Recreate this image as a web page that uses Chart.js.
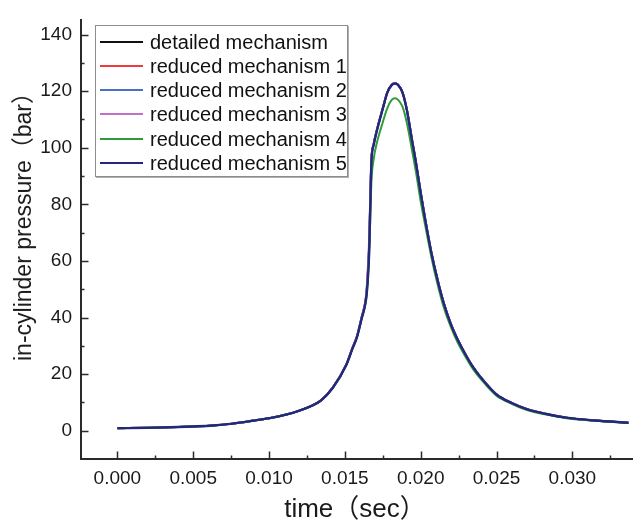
<!DOCTYPE html>
<html>
<head>
<meta charset="utf-8">
<script src="https://cdn.jsdelivr.net/npm/chart.js@4/dist/chart.umd.min.js"></script>
<style>
html,body{margin:0;padding:0;background:#fff;}
#wrap{position:relative;width:633px;height:520px;overflow:hidden;background:#fff;}
#c{position:absolute;left:0;top:0;}
.txt{position:absolute;white-space:nowrap;font-family:"Liberation Sans",Arial,"Noto Sans CJK SC",sans-serif;color:#1a1a1a;}
#legend{position:absolute;left:95px;top:25px;width:251px;height:150px;border:1px solid #8c8c8c;box-shadow:1px 1px 0 #b0b0b0;background:#fff;}
.row{position:absolute;left:0;height:24px;width:250px;}
.sample{position:absolute;left:4px;top:11px;width:43px;height:2px;}
.lab{position:absolute;left:54px;top:0;font-size:20px;line-height:24px;font-family:"Liberation Sans",Arial,sans-serif;color:#111;white-space:nowrap;}
#xtitle{font-size:26px;line-height:30px;height:30px;left:355px;top:493px;transform:translateX(-50%);}
#ytitle{font-size:23px;line-height:26px;height:26px;left:23px;top:221px;transform:translate(-50%,-50%) rotate(-90deg);}
</style>
</head>
<body>
<div id="wrap">
  <canvas id="c" width="633" height="520"></canvas>
  <div id="legend"></div>
  <div id="xtitle" class="txt"></div>
  <div id="ytitle" class="txt"></div>
</div>
<script>
// ---------- data ----------
const timeSec = [0, 0.002, 0.004, 0.005, 0.0063, 0.0076, 0.0089, 0.0102, 0.0112, 0.012,
  0.0128, 0.0134, 0.0142, 0.0151, 0.0155, 0.0158, 0.0161, 0.0164, 0.0165, 0.0166,
  0.01668, 0.01675, 0.0169, 0.0171, 0.0175, 0.0178, 0.0181, 0.01829, 0.0185, 0.0188,
  0.0191, 0.0194, 0.0197, 0.0200, 0.0203, 0.0207, 0.0211, 0.0215, 0.0220, 0.0224,
  0.0230, 0.0235, 0.0242, 0.0250, 0.0260, 0.0270, 0.0283, 0.0296, 0.0315, 0.0337];

const detailedMechanism = [0.9, 1.0, 1.3, 1.5, 1.85, 2.5, 3.5, 4.6, 5.8, 7.1,
  8.8, 10.6, 15.2, 23.4, 29.2, 33.3, 39.8, 47.5, 54, 65,
  82, 95.5, 101.2, 106, 113.9, 119.6, 122.3, 122.8, 122.3, 119.6,
  113.1, 103.6, 94.4, 84.1, 74.6, 63.1, 53.6, 45.5, 37.6, 32.7,
  26.5, 22.1, 17.3, 12.8, 9.8, 7.6, 5.9, 4.6, 3.6, 2.8];

const reducedMechanism1 = [0.9, 1.0, 1.3, 1.5, 1.85, 2.5, 3.5, 4.6, 5.8, 7.1,
  8.8, 10.6, 15.2, 23.4, 29.2, 33.3, 39.8, 47.4, 54, 65,
  82, 95.5, 101.2, 106, 113.9, 119.6, 122.3, 122.8, 122.3, 119.6,
  113.1, 103.6, 94.4, 84.1, 74.6, 63.1, 53.6, 45.5, 37.6, 32.7,
  26.5, 22.1, 17.3, 12.8, 9.8, 7.6, 5.9, 4.6, 3.6, 2.8];

const reducedMechanism2 = [0.9, 1.0, 1.3, 1.5, 1.85, 2.5, 3.5, 4.6, 5.8, 7.1,
  8.8, 10.6, 15.2, 23.5, 29.3, 33.4, 40, 47, 55, 66,
  83, 95.5, 101.3, 106, 113.9, 119.6, 122.3, 122.8, 122.3, 119.6,
  113.1, 103.6, 94.4, 84.1, 74.6, 63.1, 53.6, 45.5, 37.6, 32.7,
  26.5, 22.1, 17.3, 12.8, 9.8, 7.6, 5.9, 4.6, 3.6, 2.8];

const reducedMechanism3 = [0.9, 1.0, 1.3, 1.5, 1.85, 2.5, 3.5, 4.6, 5.8, 7.1,
  8.8, 10.7, 15.3, 23.6, 29.4, 33.6, 40.2, 48, 56, 68,
  84, 96, 101.5, 106, 114, 119.7, 122.4, 122.9, 122.3, 119.6,
  113.2, 103.7, 94.5, 84.2, 74.7, 63.2, 53.7, 45.6, 37.7, 32.8,
  26.6, 22.2, 17.4, 12.9, 9.9, 7.7, 5.9, 4.6, 3.6, 2.8];

const reducedMechanism4 = [0.9, 1.0, 1.3, 1.5, 1.85, 2.5, 3.5, 4.6, 5.8, 7.1,
  8.8, 10.6, 15.1, 23.3, 29.0, 33.1, 39.5, 46.5, 52.3, 62.8,
  76, 88, 96, 101.5, 109, 114, 117, 117.5, 117, 114.5,
  108.5, 100, 91, 81, 72.5, 61.5, 52, 44, 36.5, 31.6,
  25.7, 21.4, 16.8, 12.4, 9.5, 7.3, 5.7, 4.4, 3.5, 2.7];

const reducedMechanism5 = [0.9, 1.0, 1.3, 1.5, 1.85, 2.5, 3.5, 4.6, 5.8, 7.1,
  8.8, 10.6, 15.1, 23.3, 29.0, 33.1, 39.5, 46.5, 52.3, 62.8,
  80, 95, 101, 105.8, 113.8, 119.5, 122.2, 122.7, 122.2, 119.5,
  113, 103.5, 94.3, 84, 74.5, 63, 53.5, 45.4, 37.5, 32.6,
  26.5, 22.1, 17.3, 12.8, 9.8, 7.6, 5.9, 4.6, 3.6, 2.8];

const seriesLabels = ['detailed mechanism', 'reduced mechanism 1', 'reduced mechanism 2',
  'reduced mechanism 3', 'reduced mechanism 4', 'reduced mechanism 5'];
const seriesValues = [detailedMechanism, reducedMechanism1, reducedMechanism2,
  reducedMechanism3, reducedMechanism4, reducedMechanism5];
const seriesColors = ['#111111', '#ee3b3b', '#4a6fc4', '#c070c8', '#2f9a3a', '#22287a'];
const drawOrder = [5, 4, 3, 2, 1, 0];

const xMajorTicks = [0, 0.005, 0.010, 0.015, 0.020, 0.025, 0.030];
const xTickLabels = ['0.000', '0.005', '0.010', '0.015', '0.020', '0.025', '0.030'];
const xMinorTicks = [0.0025, 0.0075, 0.0125, 0.0175, 0.0225, 0.0275, 0.0325];
const yMajorTicks = [0, 20, 40, 60, 80, 100, 120, 140];
const yTickLabels = ['0', '20', '40', '60', '80', '100', '120', '140'];
const yMinorTicks = [10, 30, 50, 70, 90, 110, 130];

const xTitle = 'time（sec）';
const yTitle = 'in-cylinder pressure（bar）';

// ---------- chart ----------
const axisColor = '#2a2a2a';
const tickFont = {family: '"Liberation Sans", Arial, sans-serif', size: 19};

const inwardTicks = {
  id: 'inwardTicks',
  afterDraw(chart) {
    const ctx = chart.ctx, xs = chart.scales.x, ys = chart.scales.y, ca = chart.chartArea;
    ctx.save();
    ctx.strokeStyle = axisColor;
    ctx.lineWidth = 1.5;
    ctx.beginPath();
    const major = 7.5, minor = 3.5;
    yMajorTicks.forEach(v => { const y = Math.round(ys.getPixelForValue(v)) + 0.5; ctx.moveTo(ca.left, y); ctx.lineTo(ca.left + major, y); });
    yMinorTicks.forEach(v => { const y = Math.round(ys.getPixelForValue(v)) + 0.5; ctx.moveTo(ca.left, y); ctx.lineTo(ca.left + minor, y); });
    xMajorTicks.forEach(v => { const x = Math.round(xs.getPixelForValue(v)) + 0.5; ctx.moveTo(x, ca.bottom); ctx.lineTo(x, ca.bottom - major); });
    xMinorTicks.forEach(v => { const x = Math.round(xs.getPixelForValue(v)) + 0.5; ctx.moveTo(x, ca.bottom); ctx.lineTo(x, ca.bottom - minor); });
    ctx.stroke();
    ctx.restore();
  }
};

new Chart(document.getElementById('c'), {
  type: 'line',
  data: {
    datasets: seriesLabels.map((lab, i) => ({
      label: lab,
      data: timeSec.map((t, k) => ({x: t, y: seriesValues[i][k]})),
      borderColor: seriesColors[i],
      backgroundColor: seriesColors[i],
      borderWidth: i === 5 ? 2.4 : 2,
      pointRadius: 0,
      fill: false,
      cubicInterpolationMode: 'monotone',
      order: drawOrder[i]
    }))
  },
  options: {
    responsive: false,
    animation: false,
    events: [],
    layout: {padding: {top: 13, right: 0, bottom: 0, left: 0}},
    plugins: {legend: {display: false}, tooltip: {enabled: false}, title: {display: false}},
    scales: {
      x: {
        type: 'linear',
        min: -0.0024,
        max: 0.034,
        afterFit: s => { s.height = 61; },
        afterBuildTicks: s => { s.ticks = xMajorTicks.map(v => ({value: v})); },
        grid: {display: false, drawTicks: false},
        border: {display: true, color: axisColor, width: 2},
        ticks: {
          autoSkip: false, maxRotation: 0, minRotation: 0,
          padding: 8, color: '#1a1a1a', font: tickFont,
          callback: (v, i) => xTickLabels[i]
        }
      },
      y: {
        type: 'linear',
        min: -10,
        max: 145,
        afterFit: s => { s.width = 81; },
        afterBuildTicks: s => { s.ticks = yMajorTicks.map(v => ({value: v})); },
        grid: {display: false, drawTicks: false},
        border: {display: true, color: axisColor, width: 2},
        ticks: {
          autoSkip: false, padding: 9, color: '#1a1a1a', font: tickFont,
          callback: (v, i) => yTickLabels[i]
        }
      }
    }
  },
  plugins: [inwardTicks]
});

// ---------- legend & titles (HTML text) ----------
const lg = document.getElementById('legend');
seriesLabels.forEach((lab, i) => {
  const row = document.createElement('div');
  row.className = 'row';
  row.style.top = (4 + i * 24.15) + 'px';
  const s = document.createElement('div');
  s.className = 'sample';
  s.style.background = seriesColors[i];
  const t = document.createElement('div');
  t.className = 'lab';
  t.textContent = lab;
  row.appendChild(s); row.appendChild(t);
  lg.appendChild(row);
});
document.getElementById('xtitle').textContent = xTitle;
document.getElementById('ytitle').textContent = yTitle;
</script>
</body>
</html>
